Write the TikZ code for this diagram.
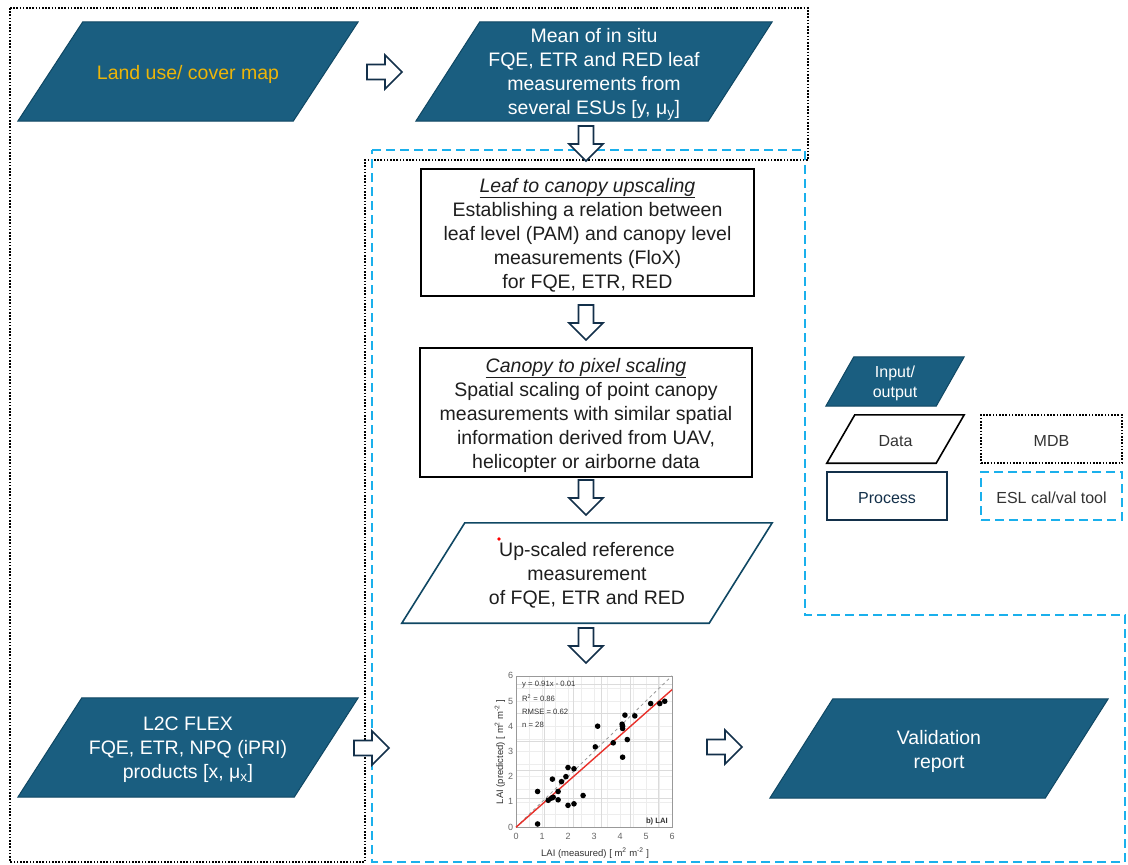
\documentclass[tikz,border=0pt]{standalone}
\usepackage{fontspec}
\setmainfont{Liberation Sans}
\usetikzlibrary{calc}
\pgfdeclarelayer{canvas}
\pgfdeclarelayer{bg}
\pgfsetlayers{canvas,bg,main}

\definecolor{iofill}{HTML}{1A5E80}
\definecolor{ioedge}{HTML}{0F4763}
\definecolor{gold}{HTML}{EDB508}
\definecolor{eslblue}{HTML}{1AB0EC}
\definecolor{navy}{HTML}{13304A}
\definecolor{ink}{HTML}{1E1E1E}
\definecolor{legendtxt}{HTML}{333333}
\definecolor{fitred}{HTML}{E8302A}

% draws a parallelogram behind a named frame node; #2 is the slant in pt
\newcommand\slantframe[3]{%
  \begin{pgfonlayer}{bg}
    \path[#3] ([xshift=#2pt]#1.north west) -- (#1.north east)
      -- ([xshift=-#2pt]#1.south east) -- (#1.south west) -- cycle;
  \end{pgfonlayer}}

\tikzset{
  framenode/.style={inner sep=0pt},
  bigtxt/.style={font=\fontsize{19.5}{24}\selectfont, align=center, inner sep=0pt},
  smalltxt/.style={font=\fontsize{16}{20}\selectfont, align=center, inner sep=0pt},
  iostyle/.style={fill=iofill, draw=ioedge, line width=1pt},
  datastyle/.style={fill=white, draw=ioedge, line width=1.6pt},
  legdata/.style={fill=white, draw=black, line width=1.6pt},
  processbox/.style={draw=black, line width=2pt, inner sep=0pt},
  mdbline/.style={draw=black, line width=1.6pt, dash pattern=on 1.6pt off 1.6pt},
  eslline/.style={draw=eslblue, line width=2pt, dash pattern=on 9pt off 5pt},
  blockarrow/.style={draw=navy, line width=1.6pt, fill=white, line join=miter},
  pics/barrow/.style={code={
    \path[blockarrow] (0,-7.5) -- (18,-7.5) -- (18,-17) -- (35,0)
      -- (18,17) -- (18,7.5) -- (0,7.5) -- cycle;}},
  plottxt/.style={font=\fontsize{7.7}{9}\selectfont, text=black!80, inner sep=0pt},
  ticktxt/.style={font=\fontsize{9}{10}\selectfont, text=black!60, inner sep=0pt},
  axistxt/.style={font=\fontsize{9.5}{11}\selectfont, text=black!80, inner sep=0pt},
}

\begin{document}
\begin{tikzpicture}[x=1pt, y=-1pt]
\begin{pgfonlayer}{canvas}
  \fill[white] (0,0) rectangle (1128,865);
\end{pgfonlayer}
\useasboundingbox (0,0) rectangle (1128,865);

% MDB (dotted) and ESL cal/val tool (dashed) regions
\draw[mdbline] (10,8) -- (808,8) -- (808,160) -- (365,160) -- (365,862) -- (10,862) -- cycle;
\draw[eslline] (372,150) -- (805,150) -- (805,615) -- (1125,615) -- (1125,862) -- (372,862) -- cycle;

% input / output parallelograms
\node[framenode, minimum width=340pt, minimum height=99pt] (land) at (188,71.5) {};
\slantframe{land}{65}{iostyle}
\node[bigtxt, text=gold] (land-t) at ([yshift=-2.5pt]land.center) {Land use/ cover map};

\node[framenode, minimum width=356pt, minimum height=99pt] (mean) at (594,71.5) {};
\slantframe{mean}{64}{iostyle}
\node[bigtxt, text=white] (mean-t) at ([yshift=-2.5pt]mean.center)
  {Mean of in situ\\FQE, ETR and RED leaf\\measurements from\\several ESUs [y, μ\textsubscript{y}]};

\node[framenode, minimum width=340pt, minimum height=99pt] (l2c) at (188,747.5) {};
\slantframe{l2c}{64}{iostyle}
\node[bigtxt, text=white] (l2c-t) at ([yshift=-2.5pt]l2c.center)
  {L2C FLEX\\FQE, ETR, NPQ (iPRI)\\products [x, μ\textsubscript{x}]};

\node[framenode, minimum width=338pt, minimum height=99pt] (valid) at (939,748.5) {};
\slantframe{valid}{63}{iostyle}
\node[bigtxt, text=white] (valid-t) at ([yshift=-2.5pt]valid.center) {Validation\\report};

% processing steps
\node[processbox, minimum width=333pt, minimum height=127pt] (leaf) at (587.5,232.5) {};
\node[bigtxt, text=ink] (leaf-t) at ([yshift=-2.5pt]leaf.center)
  {\underline{\textit{Leaf to canopy upscaling}}\\Establishing a relation between\\leaf level (PAM) and canopy level\\measurements (FloX)\\for FQE, ETR, RED};

\node[processbox, minimum width=332pt, minimum height=129pt] (canopy) at (586,412.5) {};
\node[bigtxt, text=ink] (canopy-t) at ([yshift=-2.5pt]canopy.center)
  {\underline{\textit{Canopy to pixel scaling}}\\Spatial scaling of point canopy\\measurements with similar spatial\\information derived from UAV,\\helicopter or airborne data};

\node[framenode, minimum width=370pt, minimum height=100pt] (upscaled) at (587,573) {};
\slantframe{upscaled}{63}{datastyle}
\node[bigtxt, text=ink] (upscaled-t) at ([yshift=-2.5pt]upscaled.center)
  {Up-scaled reference\\measurement\\of FQE, ETR and RED};
\fill[red] (499,539) circle[radius=1.8pt];

% block arrows
\pic (a1) at (367,72) {barrow};
\pic[rotate=-90] (a2) at (586,126) {barrow};
\pic[rotate=-90] (a3) at (586,305) {barrow};
\pic[rotate=-90] (a4) at (586,480) {barrow};
\pic[rotate=-90] (a5) at (586,628) {barrow};
\pic (a6) at (354,748) {barrow};
\pic (a7) at (707,747) {barrow};

% scatter plot of the validation
\begin{scope}[shift={(516,827)}, x=26pt, y=25.2pt]
  \draw[black!7, line width=0.4pt] (0,0) grid[step=0.5] (6,6);
  \draw[black!14, line width=0.5pt] (0,0) grid (6,6);
  \draw[black!40, line width=0.6pt] (0,0) rectangle (6,6);
  \foreach \v in {0,...,6} {
    \node[ticktxt, anchor=east] (yt\v) at (-0.1,\v) {\v};
    \node[ticktxt] (xt\v) at (\v,-0.36) {\v};
  }
  \draw[black!40, dashed, line width=0.8pt] (0,0) -- (6,6);
  \draw[fitred, line width=1.4pt] (0,-0.01) -- (6,5.45);
  \foreach \px/\py in {0.83/0.12,0.83/1.41,1.24/1.06,1.37/1.15,1.43/1.18,1.40/1.90,1.62/1.08,
      1.62/1.41,1.75/1.80,1.92/2.00,2.0/2.36,2.23/2.31,2.0/0.86,2.23/0.92,2.58/1.25,3.05/3.18,
      3.14/4.0,3.74/3.34,4.1/4.0,4.1/3.91,4.1/2.77,4.19/4.44,4.28/3.47,4.57/4.41,5.18/4.9,
      5.53/4.9,5.72/4.99,4.08/4.08}
    \fill[black] (\px,\py) circle[radius=2.8pt];
  \node[plottxt, anchor=west] (eq) at (0.23,5.67) {y = 0.91x - 0.01};
  \node[plottxt, anchor=west] (r2) at (0.23,5.12) {R\textsuperscript{2} = 0.86};
  \node[plottxt, anchor=west] (rmse) at (0.23,4.56) {RMSE = 0.62};
  \node[plottxt, anchor=west] (nn) at (0.23,4.05) {n = 28};
  \node[plottxt, font=\fontsize{7.7}{9}\selectfont\bfseries] (panel) at (5.42,0.2) {b) LAI};
  \node[axistxt, rotate=90] (ylab) at (-0.62,2.98) {LAI (predicted) [ m\textsuperscript{2} m\textsuperscript{-2} ]};
  \node[axistxt] (xlab) at (3.04,-1.03) {LAI (measured) [ m\textsuperscript{2} m\textsuperscript{-2} ]};
\end{scope}

% legend
\node[framenode, minimum width=138pt, minimum height=49pt] (legio) at (895,381.5) {};
\slantframe{legio}{28}{iostyle}
\node[smalltxt, text=white] (legio-t) at ([yshift=-2pt]legio.center) {Input/\\output};
\node[framenode, minimum width=137pt, minimum height=48pt] (legdat) at (895.5,439) {};
\slantframe{legdat}{28}{legdata}
\node[smalltxt, text=legendtxt] (legdat-t) at ([yshift=-2pt]legdat.center) {Data};
\node[framenode, draw=navy, line width=1.6pt, minimum width=120pt, minimum height=48pt] (legproc) at (887,496) {};
\node[smalltxt, text=navy] (legproc-t) at ([yshift=-2pt]legproc.center) {Process};
\node[framenode, mdbline, minimum width=141pt, minimum height=48pt] (legmdb) at (1051.5,439) {};
\node[smalltxt, text=legendtxt] (legmdb-t) at ([yshift=-2pt]legmdb.center) {MDB};
\node[framenode, eslline, minimum width=141pt, minimum height=48pt] (legesl) at (1051.5,496) {};
\node[smalltxt, text=legendtxt] (legesl-t) at ([yshift=-2pt]legesl.center) {ESL cal/val tool};
\end{tikzpicture}
\end{document}
